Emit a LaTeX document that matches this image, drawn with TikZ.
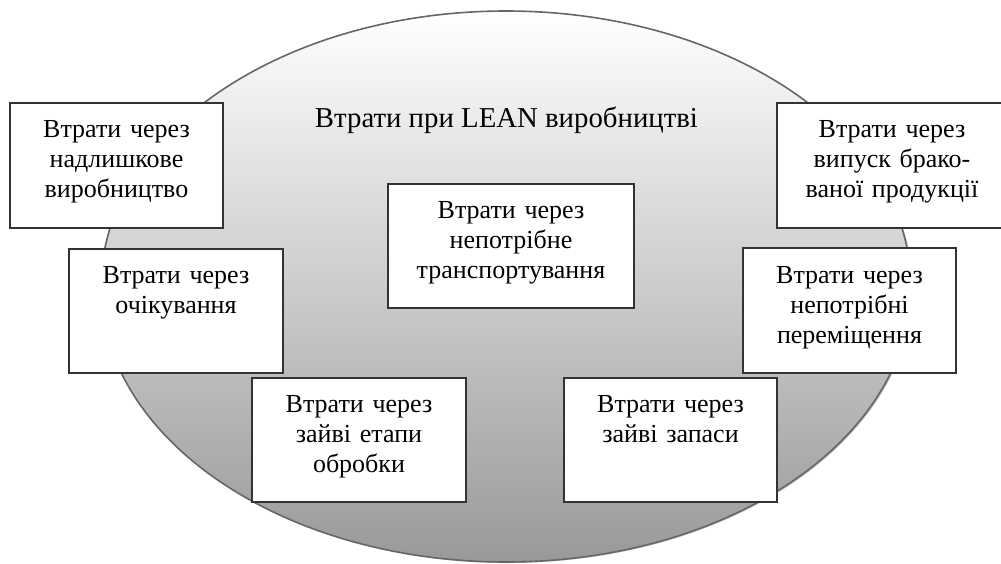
\documentclass[tikz,border=0pt]{standalone}
\usepackage{fontspec}
\setmainfont{Liberation Serif}
\usetikzlibrary{shapes.geometric}
\begin{document}
\begin{tikzpicture}[x=1pt,y=-1pt,
  boxframe/.style={draw=black!80,line width=1.1pt,fill=white,inner sep=0pt},
  boxtext/.style={anchor=base,align=center,text width=210pt,inner sep=0pt,
    font=\fontsize{26}{30}\selectfont},
  ellipseshape/.style={draw=black!60,line width=1.6pt,top color=white,bottom color=black!40}]
\useasboundingbox (0,0) rectangle (1001,563);
% shadow
\fill[black!25] (507.5,287.5) ellipse [x radius=405, y radius=275.5];
\node[ellipseshape,ellipse,minimum width=810pt,minimum height=551pt,inner sep=0pt] (ell) at (506,286.5) {};
\node[anchor=base,inner sep=0pt,font=\fontsize{28.8}{32}\selectfont] (title) at (506.5,127) {Втрати при LEAN виробництві};
% boxes
\node[boxframe,minimum width=213pt,minimum height=125pt] (b1) at (116.5,165.5) {};
\node[boxtext] (t1) at (116.5,137) {Втрати через\\надлишкове\\виробництво};
\node[boxframe,minimum width=214pt,minimum height=124pt] (b2) at (176,311) {};
\node[boxtext] (t2) at (176,283) {Втрати через\\очікування};
\node[boxframe,minimum width=246pt,minimum height=124pt] (b3) at (511,246) {};
\node[boxtext] (t3) at (511,218) {Втрати через\\непотрібне\\транспортування};
\node[boxframe,minimum width=214pt,minimum height=124pt] (b4) at (359,440) {};
\node[boxtext] (t4) at (359,412) {Втрати через\\зайві етапи\\обробки};
\node[boxframe,minimum width=213pt,minimum height=124pt] (b5) at (670.5,440) {};
\node[boxtext] (t5) at (670.5,412) {Втрати через\\зайві запаси};
\node[boxframe,minimum width=228pt,minimum height=125pt] (b6) at (891,165.5) {};
\node[boxtext] (t6) at (892,137) {Втрати через\\випуск брако-\\ваної продукції};
\node[boxframe,minimum width=213pt,minimum height=125pt] (b7) at (849.5,310.5) {};
\node[boxtext] (t7) at (849.5,283) {Втрати через\\непотрібні\\переміщення};
\end{tikzpicture}
\end{document}
